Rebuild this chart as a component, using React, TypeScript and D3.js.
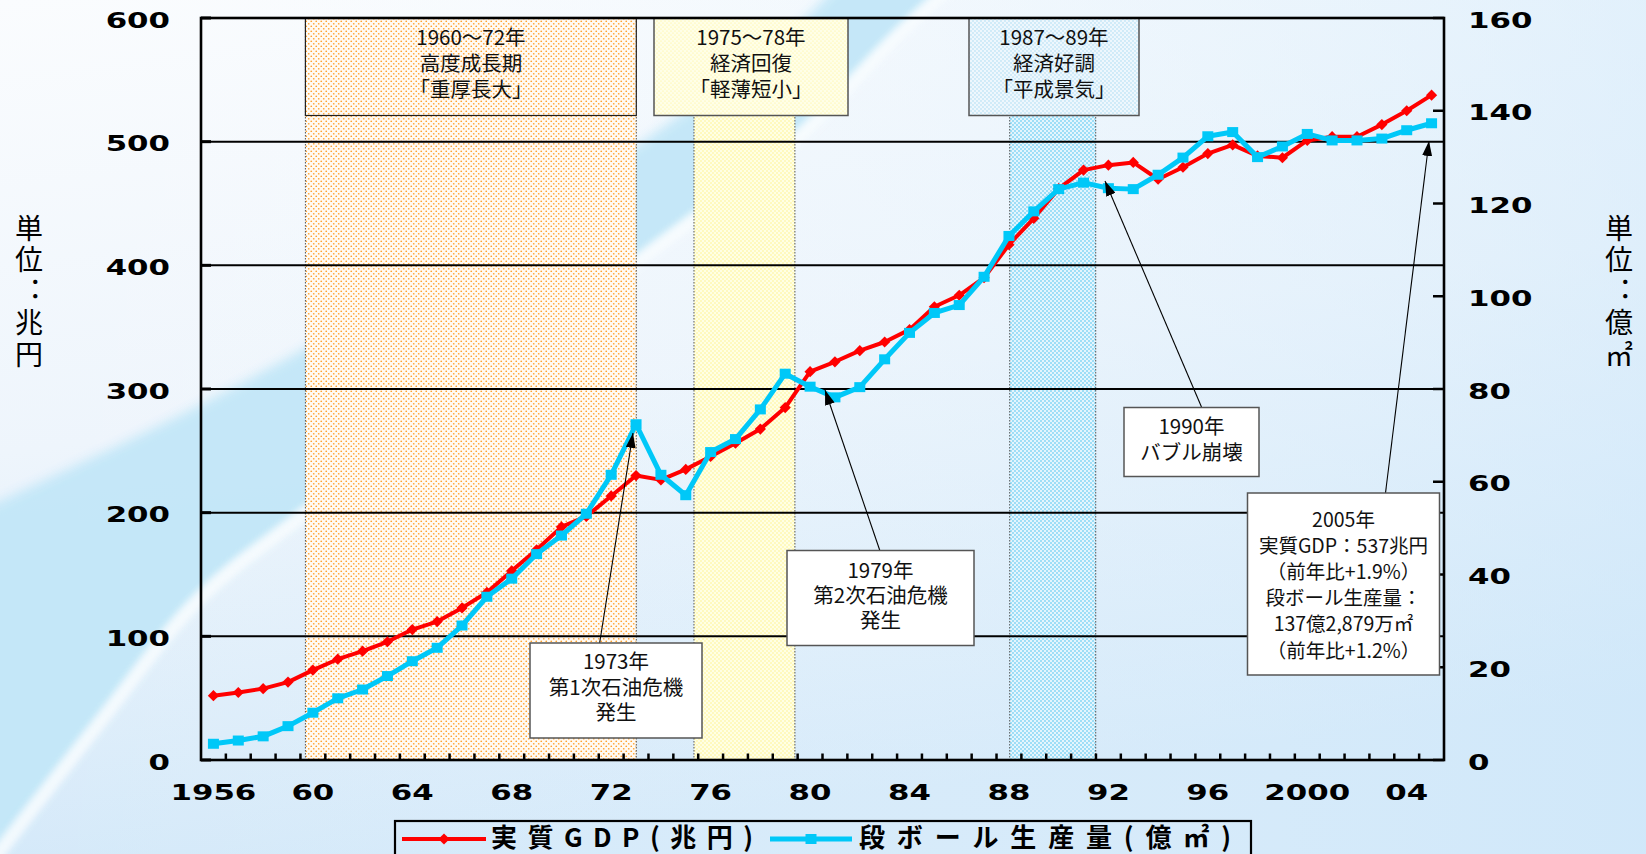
import React from 'react';
import * as d3 from 'd3';

// ---------------- data ----------------
const years: number[] = [
  1956, 1957, 1958, 1959, 1960, 1961, 1962, 1963, 1964, 1965,
  1966, 1967, 1968, 1969, 1970, 1971, 1972, 1973, 1974, 1975,
  1976, 1977, 1978, 1979, 1980, 1981, 1982, 1983, 1984, 1985,
  1986, 1987, 1988, 1989, 1990, 1991, 1992, 1993, 1994, 1995,
  1996, 1997, 1998, 1999, 2000, 2001, 2002, 2003, 2004, 2005,
];

// 実質GDP (兆円) – left axis
const gdp: number[] = [
  52, 54.6, 57.7, 63, 72.7, 81.5, 88, 95.6, 105.5, 111.9,
  123, 135.5, 153, 170, 188.5, 197, 213.5, 230, 226.5, 235,
  245.4, 256.2, 267.6, 285, 314, 322, 331, 338, 348, 366.5,
  375.8, 390, 416.7, 438, 462, 477, 481, 483.2, 469.6, 479.3,
  490.4, 497.4, 488.5, 487, 501, 504, 504, 513.8, 525, 537.6,
];

// 段ボール生産量 (億㎡) – right axis
const cardboard: number[] = [
  3.5, 4.2, 5.1, 7.3, 10.2, 13.3, 15.2, 18.1, 21.3, 24.2,
  29, 35.2, 39.1, 44.4, 48.4, 53.1, 61.5, 72.4, 61.5, 57.1,
  66.4, 69.2, 75.6, 83.3, 80.5, 78.2, 80.4, 86.4, 92.1, 96.4,
  98.1, 104.2, 113, 118.3, 123.1, 124.5, 123.3, 123.1, 126.2, 129.9,
  134.5, 135.4, 130, 132.3, 135, 133.6, 133.6, 134, 135.8, 137.3,
];

const xTickYears: number[] = [1956, 1960, 1964, 1968, 1972, 1976, 1980, 1984, 1988, 1992, 1996, 2000, 2004];
const xTickLabels: string[] = ['1956', '60', '64', '68', '72', '76', '80', '84', '88', '92', '96', '2000', '04'];
const leftTicks: number[] = [0, 100, 200, 300, 400, 500, 600];
const rightTicks: number[] = [0, 20, 40, 60, 80, 100, 120, 140, 160];

// shaded periods (in year units of the category axis)
const periodFrom: number[] = [1959.7, 1975.33, 1988.03];
const periodTo: number[] = [1973.01, 1979.39, 1991.49];
const periodLabels: string[][] = [
  ['1960〜72年', '高度成長期', '「重厚長大」'],
  ['1975〜78年', '経済回復', '「軽薄短小」'],
  ['1987〜89年', '経済好調', '「平成景気」'],
];

const calloutTexts: string[][] = [
  ['1973年', '第1次石油危機', '発生'],
  ['1979年', '第2次石油危機', '発生'],
  ['1990年', 'バブル崩壊'],
  ['2005年', '実質GDP：537兆円', '（前年比+1.9%）', '段ボール生産量：', '137億2,879万㎡', '（前年比+1.2%）'],
];

const legendLabels: string[] = ['実質GDP(兆円)', '段ボール生産量(億㎡)'];
const leftTitle = '単位：兆円';
const rightTitle = '単位：億㎡';

// ---------------- drawing ----------------
const JP = '"Noto Sans CJK JP", "Noto Sans", sans-serif';
const NUM = '"DejaVu Sans", "Liberation Sans", sans-serif';
const RED = '#ff0000';
const CYAN = '#00c8f8';

export default function App() {
  const W = 1646;
  const H = 854;
  const X0 = 201, X1 = 1444, YB = 760, YT = 18;

  const xBand = d3.scaleBand<number>().domain(years).range([X0, X1]).paddingInner(0).paddingOuter(0);
  const bw = xBand.bandwidth();
  const xc = (y: number) => (xBand(y) as number) + bw / 2;
  const xLin = d3.scaleLinear().domain([years[0] - 0.5, years[years.length - 1] + 0.5]).range([X0, X1]);
  const yL = d3.scaleLinear().domain([0, 600]).range([YB, YT]);
  const yR = d3.scaleLinear().domain([0, 160]).range([YB, YT]);

  const lineGdp = d3.line<number>().x((_, i) => xc(years[i])).y((d) => yL(d));
  const lineCb = d3.line<number>().x((_, i) => xc(years[i])).y((d) => yR(d));

  // background swoosh
  const edge = d3.line<[number, number]>().curve(d3.curveCatmullRom.alpha(0.5));
  const upper: [number, number][] = [[-30, 515], [200, 405], [420, 282], [637, 145], [795, 28], [850, -30]];
  const lower: [number, number][] = [[-30, 890], [100, 722], [200, 598], [303, 515], [637, 262], [795, 140], [900, 33], [970, -30]];
  const dU = edge(upper) as string;
  const dL = (edge(lower.slice().reverse()) as string).replace(/^M/, 'L');
  const swooshD = dU + dL + 'Z';
  const streakD = edge(lower) as string;

  const patterns = ['url(#pOrange)', 'url(#pYellow)', 'url(#pBlue)'];
  const boxFills = ['url(#pOrange)', 'url(#pYellowBox)', 'url(#pBlueBox)'];
  const boxRects = [
    { x: xLin(periodFrom[0]), w: xLin(periodTo[0]) - xLin(periodFrom[0]), cx: 471 },
    { x: 654, w: 194, cx: 751 },
    { x: 969, w: 170, cx: 1054 },
  ];

  const callouts = [
    { x: 530, y: 643, w: 172, h: 95, cx: 616, first: 669, lh: 25.7, fs: 20.5, ax: 599, ay: 647, tx: 633, ty: 433 },
    { x: 787, y: 550.5, w: 187, h: 95, cx: 880.5, first: 577.5, lh: 25.3, fs: 20.5, ax: 880, ay: 551, tx: 825, ty: 390 },
    { x: 1124, y: 407.5, w: 135, h: 69, cx: 1191.5, first: 434, lh: 26.3, fs: 20.5, ax: 1201.5, ay: 407, tx: 1105, ty: 181 },
    { x: 1247.5, y: 493, w: 192, h: 182, cx: 1343.5, first: 527, lh: 26.1, fs: 19.5, ax: 1385.5, ay: 493, tx: 1429, ty: 141 },
  ];

  const diamond = (x: number, y: number, r: number) => `M${x - r},${y}L${x},${y - r}L${x + r},${y}L${x},${y + r}Z`;
  const vStyle: React.CSSProperties = {
    writingMode: 'vertical-rl' as any,
    textOrientation: 'upright' as any,
    fontFeatureSettings: '"vert" 0, "vrt2" 0',
  };

  return (
    <div style={{ position: 'absolute', left: 0, top: 0 }}>
      <svg width={W} height={H} viewBox={`0 0 ${W} ${H}`} style={{ display: 'block' }}>
        <defs>
          <linearGradient id="bg" x1="0" y1="0" x2="0.25" y2="1">
            <stop offset="0" stopColor="#fafcfe" />
            <stop offset="0.5" stopColor="#eef5fc" />
            <stop offset="1" stopColor="#d2e8f9" />
          </linearGradient>
          <linearGradient id="bgR" x1="0" y1="0" x2="1" y2="0">
            <stop offset="0" stopColor="#ffffff" stopOpacity="0" />
            <stop offset="1" stopColor="#cfe8fa" stopOpacity="0.5" />
          </linearGradient>
          <filter id="blur6" x="-20%" y="-20%" width="140%" height="140%">
            <feGaussianBlur stdDeviation="6" />
          </filter>
          <filter id="blur3" x="-20%" y="-20%" width="140%" height="140%">
            <feGaussianBlur stdDeviation="3" />
          </filter>
          <pattern id="pOrange" patternUnits="userSpaceOnUse" width="5" height="5">
            <rect width="5" height="5" fill="#fffaf3" />
            <circle cx="1.25" cy="1.25" r="0.85" fill="#ffa12a" />
            <circle cx="3.75" cy="3.75" r="0.85" fill="#ffa12a" />
          </pattern>
          <pattern id="pYellow" patternUnits="userSpaceOnUse" width="4" height="4">
            <rect width="4" height="4" fill="#ffffe4" />
            <circle cx="1" cy="1" r="0.7" fill="#fff07a" />
            <circle cx="3" cy="3" r="0.7" fill="#fff07a" />
          </pattern>
          <pattern id="pYellowBox" patternUnits="userSpaceOnUse" width="4" height="4">
            <rect width="4" height="4" fill="#ffffe8" />
            <circle cx="1" cy="1" r="0.6" fill="#fff28c" />
            <circle cx="3" cy="3" r="0.6" fill="#fff28c" />
          </pattern>
          <pattern id="pBlue" patternUnits="userSpaceOnUse" width="4" height="4">
            <rect width="4" height="4" fill="#e4f5fd" />
            <circle cx="1" cy="1" r="0.75" fill="#35bdf0" />
            <circle cx="3" cy="3" r="0.75" fill="#35bdf0" />
          </pattern>
          <pattern id="pBlueBox" patternUnits="userSpaceOnUse" width="4" height="4">
            <rect width="4" height="4" fill="#eef7fd" />
            <circle cx="1" cy="1" r="0.65" fill="#9ad6f0" />
            <circle cx="3" cy="3" r="0.65" fill="#9ad6f0" />
          </pattern>
          <marker id="arrow" markerUnits="userSpaceOnUse" markerWidth="16" markerHeight="10" refX="15" refY="5" orient="auto">
            <path d="M0,0L15,5L0,10Z" fill="#000" />
          </marker>
        </defs>

        {/* background */}
        <rect width={W} height={H} fill="url(#bg)" />
        <rect width={W} height={H} fill="url(#bgR)" />
        <path d={swooshD} fill="#c3e7f8" opacity={0.95} filter="url(#blur6)" />
        <path d={streakD} fill="none" stroke="#ffffff" strokeWidth={14} opacity={0.75} filter="url(#blur3)" />

        {/* shaded periods */}
        {periodFrom.map((f, i) => (
          <g key={'p' + i}>
            <rect x={xLin(f)} y={YT} width={xLin(periodTo[i]) - xLin(f)} height={YB - YT} fill={patterns[i]} />
            <line x1={xLin(f)} x2={xLin(f)} y1={YT} y2={YB} stroke="#555" strokeWidth={1} strokeDasharray="1.5 1.5" />
            <line x1={xLin(periodTo[i])} x2={xLin(periodTo[i])} y1={YT} y2={YB} stroke="#555" strokeWidth={1} strokeDasharray="1.5 1.5" />
          </g>
        ))}

        {/* gridlines */}
        {leftTicks.filter((t) => t > 0 && t < 600).map((t) => (
          <line key={'g' + t} x1={X0} x2={X1} y1={yL(t)} y2={yL(t)} stroke="#000" strokeWidth={2} />
        ))}

        {/* period label boxes */}
        {boxRects.map((b, i) => (
          <g key={'b' + i}>
            <rect x={b.x} y={YT} width={b.w} height={115.5 - YT} fill={boxFills[i]} stroke={i === 0 ? '#222' : '#555'} strokeWidth={i === 0 ? 1.2 : 1.5} />
            <text textAnchor="middle" fontFamily={JP} fontSize={20.5} fill="#111">
              {periodLabels[i].map((s, k) => (
                <tspan key={k} x={b.cx} y={45 + k * 26}>{s}</tspan>
              ))}
            </text>
          </g>
        ))}

        {/* frame */}
        <rect x={X0} y={YT} width={X1 - X0} height={YB - YT} fill="none" stroke="#000" strokeWidth={2.6} />
        {leftTicks.map((t) => (
          <line key={'lt' + t} x1={X0} x2={X0 + 10} y1={yL(t)} y2={yL(t)} stroke="#000" strokeWidth={3} />
        ))}
        {rightTicks.map((t) => (
          <line key={'rt' + t} x1={X1 - 11} x2={X1} y1={yR(t)} y2={yR(t)} stroke="#000" strokeWidth={2.5} />
        ))}
        {years.slice(1).map((y) => (
          <line key={'xt' + y} x1={xBand(y) as number} x2={xBand(y) as number} y1={YB} y2={YB - 6.5} stroke="#000" strokeWidth={2.5} />
        ))}

        {/* series */}
        <path d={lineGdp(gdp) as string} fill="none" stroke={RED} strokeWidth={4} strokeLinejoin="round" />
        {gdp.map((v, i) => (
          <path key={'r' + i} d={diamond(xc(years[i]), yL(v), 5.6)} fill={RED} />
        ))}
        <path d={lineCb(cardboard) as string} fill="none" stroke={CYAN} strokeWidth={5} strokeLinejoin="round" />
        {cardboard.map((v, i) => (
          <rect key={'c' + i} x={xc(years[i]) - 5.5} y={yR(v) - 5} width={11} height={10} fill={CYAN} />
        ))}

        {/* callouts */}
        {callouts.map((c, i) => (
          <g key={'co' + i}>
            <line x1={c.ax} y1={c.ay} x2={c.tx} y2={c.ty} stroke="#000" strokeWidth={1.1} markerEnd="url(#arrow)" />
            <rect x={c.x} y={c.y} width={c.w} height={c.h} fill="#ffffff" stroke="#555" strokeWidth={1.5} />
            <text textAnchor="middle" fontFamily={JP} fontSize={c.fs} fill="#111">
              {calloutTexts[i].map((s, k) => (
                <tspan key={k} x={c.cx} y={c.first + k * c.lh}>{s}</tspan>
              ))}
            </text>
          </g>
        ))}

        {/* axis labels */}
        {leftTicks.map((t) => (
          <text key={'ll' + t} x={170} y={yL(t) + 9.7} textAnchor="end" fontFamily={NUM} fontWeight="bold" fontSize={21}
            textLength={String(t).length * 21.45} lengthAdjust="spacingAndGlyphs" fill="#000">{String(t)}</text>
        ))}
        {rightTicks.map((t) => (
          <text key={'rl' + t} x={1468} y={yR(t) + 9.5} textAnchor="start" fontFamily={NUM} fontWeight="bold" fontSize={21}
            textLength={String(t).length * 21.45} lengthAdjust="spacingAndGlyphs" fill="#000">{String(t)}</text>
        ))}
        {xTickYears.map((y, i) => (
          <text key={'xl' + y} x={xc(y)} y={800} textAnchor="middle" fontFamily={NUM} fontWeight="bold" fontSize={21}
            textLength={xTickLabels[i].length * 21.45} lengthAdjust="spacingAndGlyphs" fill="#000">{xTickLabels[i]}</text>
        ))}

        {/* axis titles (vertical) */}
        <text x={29} y={214} fontFamily={JP} fontSize={28} letterSpacing={3.5} fill="#000" style={vStyle}>{leftTitle}</text>
        <text x={1619} y={214} fontFamily={JP} fontSize={28} letterSpacing={3.5} fill="#000" style={vStyle}>{rightTitle}</text>

        {/* legend */}
        <rect x={395} y={821} width={856} height={60} fill="none" stroke="#000" strokeWidth={2.2} />
        <line x1={402} x2={486} y1={839} y2={839} stroke={RED} strokeWidth={4} />
        <path d={diamond(444, 839, 5.6)} fill={RED} />
        <text x={491} y={846.5} fontFamily={JP} fontWeight="bold" fontSize={26} textLength={262} lengthAdjust="spacing" fill="#000">{legendLabels[0]}</text>
        <line x1={770} x2={852} y1={839} y2={839} stroke={CYAN} strokeWidth={5} />
        <rect x={811 - 5.5} y={834} width={11} height={10} fill={CYAN} />
        <text x={859} y={846.5} fontFamily={JP} fontWeight="bold" fontSize={26} textLength={372} lengthAdjust="spacing" fill="#000">{legendLabels[1]}</text>
      </svg>
    </div>
  );
}
